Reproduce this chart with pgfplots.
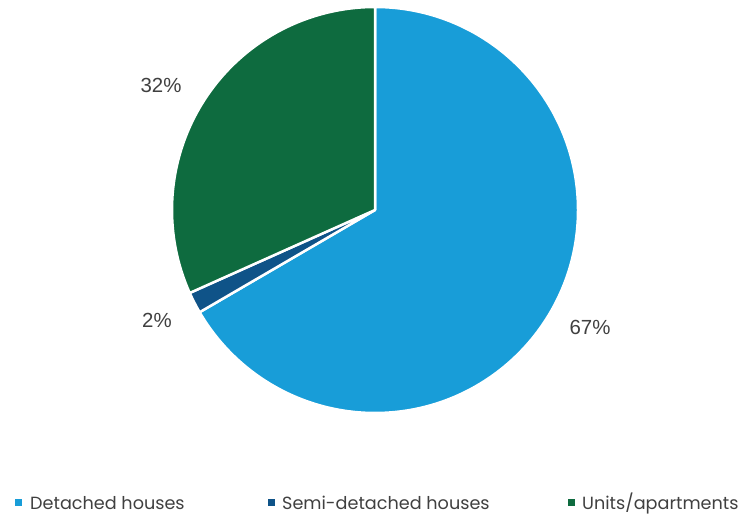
\documentclass[border=0pt]{standalone}
\usepackage{pgfplots}
\usepackage{pgfplotstable}
\pgfplotsset{compat=1.18}
\usepackage{fontspec}
\setmainfont{Poppins}
\newfontfamily\labfont{Liberation Sans}

\definecolor{detached}{HTML}{189DD8}
\definecolor{semi}{HTML}{0F5388}
\definecolor{units}{HTML}{0E6B3F}
\definecolor{txt}{HTML}{404040}

% share of dwellings, percent
\pgfplotstableread{
type value
Detached 66.6
Semi 1.7
Units 31.7
}\piedata

\pgfplotstablegetelem{0}{value}\of\piedata \let\vA\pgfplotsretval
\pgfplotstablegetelem{1}{value}\of\piedata \let\vB\pgfplotsretval
\pgfplotstablegetelem{2}{value}\of\piedata \let\vC\pgfplotsretval
% start at 12 o'clock, go clockwise
\pgfmathsetmacro\aO{90}
\pgfmathsetmacro\aI{\aO-3.6*\vA}
\pgfmathsetmacro\aII{\aI-3.6*\vB}
\pgfmathsetmacro\aIII{\aII-3.6*\vC}

\begin{document}
\begin{tikzpicture}
\begin{axis}[
    hide axis,
    clip=false,
    x=1bp, y=1bp,
    xmin=0, xmax=747,
    ymin=0, ymax=516,
]
\path[use as bounding box] (axis cs:0,0) rectangle (axis cs:747,516);
% pie, centre (375,306), radius 203
\filldraw[fill=detached, draw=white, line width=2.5bp, line join=round]
  (axis cs:375,306) -- ++(\aO:203bp) arc[start angle=\aO, end angle=\aI, radius=203bp] -- cycle;
\filldraw[fill=semi, draw=white, line width=2.5bp, line join=round]
  (axis cs:375,306) -- ++(\aI:203bp) arc[start angle=\aI, end angle=\aII, radius=203bp] -- cycle;
\filldraw[fill=units, draw=white, line width=2.5bp, line join=round]
  (axis cs:375,306) -- ++(\aII:203bp) arc[start angle=\aII, end angle=\aIII, radius=203bp] -- cycle;

% data labels
\node[txt, font=\labfont\fontsize{20.5}{22}\selectfont] at (axis cs:161,431) {32\%};
\node[txt, font=\labfont\fontsize{20.5}{22}\selectfont] at (axis cs:157,196) {2\%};
\node[txt, font=\labfont\fontsize{20.5}{22}\selectfont] at (axis cs:590,189) {67\%};

% legend
\fill[detached] (axis cs:15,10) rectangle (axis cs:22,17);
\node[txt, anchor=west, inner sep=0pt, font=\fontsize{17.7}{19}\selectfont] at (axis cs:30,13) {Detached houses};
\fill[semi] (axis cs:268,10) rectangle (axis cs:275,17);
\node[txt, anchor=west, inner sep=0pt, font=\fontsize{17.7}{19}\selectfont] at (axis cs:282,13) {Semi-detached houses};
\fill[units] (axis cs:568,10) rectangle (axis cs:575,17);
\node[txt, anchor=west, inner sep=0pt, font=\fontsize{17.7}{19}\selectfont] at (axis cs:582,13) {Units/apartments};
\end{axis}
\end{tikzpicture}
\end{document}
